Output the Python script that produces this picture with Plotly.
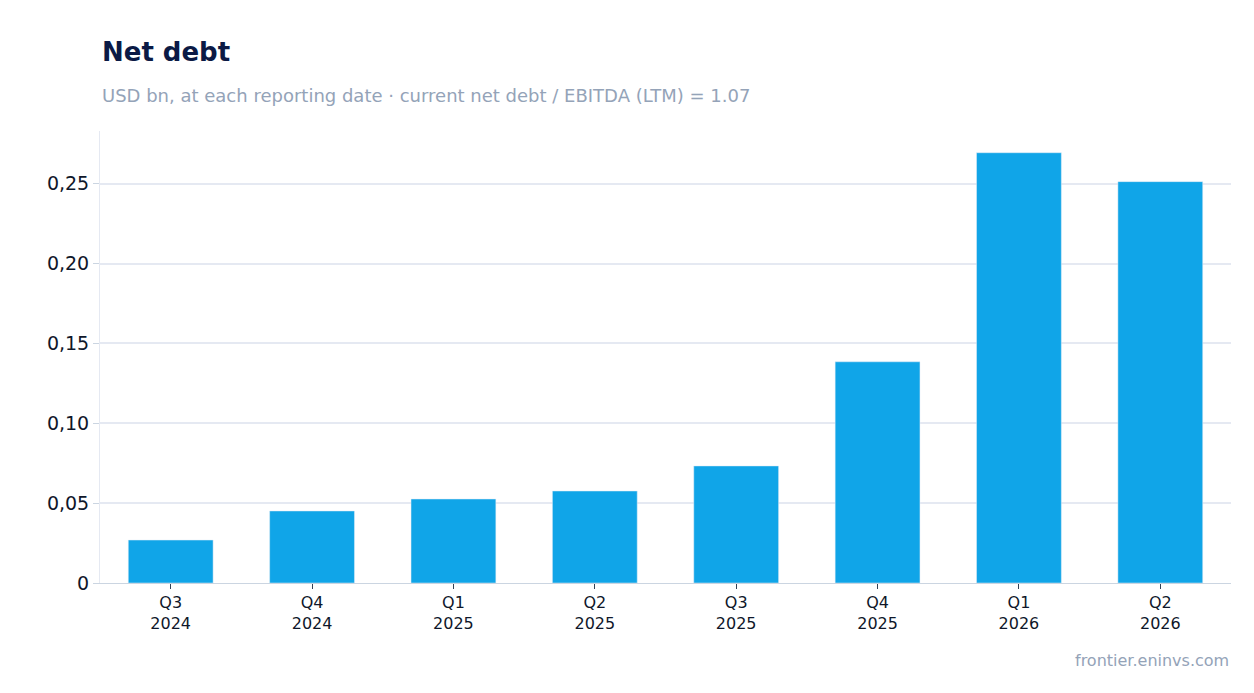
import plotly.graph_objects as go

quarters = ["Q3<br>2024", "Q4<br>2024", "Q1<br>2025", "Q2<br>2025", "Q3<br>2025", "Q4<br>2025", "Q1<br>2026", "Q2<br>2026"]
net_debt = [0.0269, 0.0451, 0.0526, 0.0576, 0.0733, 0.1385, 0.2694, 0.2513]
y_ticks = [0, 0.05, 0.10, 0.15, 0.20, 0.25]

fig = go.Figure(go.Bar(x=quarters, y=net_debt, marker_color="#10a5e8", width=0.6))
fig.update_layout(
    width=1254, height=693, separators=", ",
    margin=dict(l=92, r=31, t=123, b=118),
    plot_bgcolor="white", paper_bgcolor="white",
    font=dict(family="DejaVu Sans", color="#0f172a"),
    showlegend=False,
    annotations=[
        dict(text="<b>Net debt</b>", x=0, y=44, xref="paper", yref="paper", showarrow=False),
    ],
)
fig.layout.annotations = []
fig.add_annotation(text="<b>Net debt</b>", xref="paper", yref="paper", x=0, y=1 + 79/452,
                   xanchor="left", yanchor="middle", showarrow=False,
                   font=dict(size=26, color="#0b1a45"))
fig.add_annotation(text="USD bn, at each reporting date · current net debt / EBITDA (LTM) = 1.07",
                   xref="paper", yref="paper", x=0, y=1 + 35/452, xanchor="left", yanchor="middle",
                   showarrow=False, font=dict(size=18, color="#94a3b8"))
fig.add_annotation(text="frontier.eninvs.com", xref="paper", yref="paper", x=1, y=-77/452,
                   xanchor="right", yanchor="middle", showarrow=False,
                   font=dict(size=16, color="#94a3b8"))
fig.update_yaxes(range=[0, 0.283], tickvals=y_ticks, tickformat=".2f",
                 ticktext=["0", "0,05", "0,10", "0,15", "0,20", "0,25"],
                 showgrid=True, gridcolor="#e5e9f2", gridwidth=2,
                 showline=True, linecolor="#e5e9f2", ticks="outside", tickcolor="#cbd5e1",
                 ticklen=6, tickfont=dict(size=19), zeroline=False)
fig.update_xaxes(showline=True, linecolor="#cbd5e1", ticks="outside", tickcolor="#334155",
                 ticklen=5, tickfont=dict(size=16))
fig.write_html("out.html")
